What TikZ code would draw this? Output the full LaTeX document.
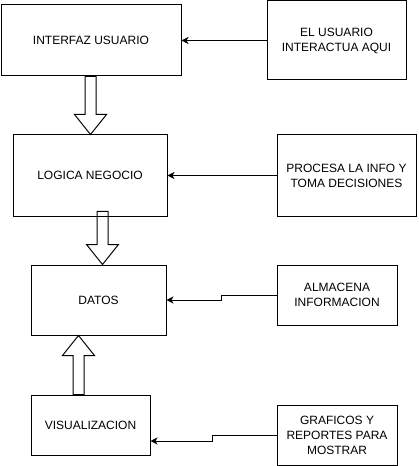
\documentclass[tikz,border=0pt]{standalone}
\usepackage{fontspec}
\setmainfont{Liberation Sans}
\usetikzlibrary{arrows.meta,calc}

\tikzset{
  caja/.style={draw, line width=0.75pt, align=center, inner sep=2pt, font=\fontsize{9}{11.25}\selectfont},
  linea/.style={line width=0.75pt, -{Stealth[length=5.25pt,width=5.25pt,inset=1.5pt]}},
  bloque/.style={line width=0.75pt, line join=miter}
}

% flecha de bloque: #1 = inicio, #2 = punta
\newcommand{\flechabloque}[2]{%
  \draw[bloque] let \p1=(#1), \p2=(#2), \p3=($(\p2)!15pt!(\p1)$) in
    (\x2-4.125pt,\y1) -- (\x2-4.125pt,\y3) -- (\x2-12pt,\y3) -- (\p2)
    -- (\x2+12pt,\y3) -- (\x2+4.125pt,\y3) -- (\x2+4.125pt,\y1) -- cycle;}

\begin{document}
\begin{tikzpicture}[x=0.75pt,y=-0.75pt]
\path[fill=white] (0,0) rectangle (418,466);
\useasboundingbox (0,0) rectangle (418,466);

\node[caja, minimum width=135pt, minimum height=53.25pt] (interfaz) at (91,40.5) {INTERFAZ USUARIO};
\node[caja, minimum width=104.25pt, minimum height=59.25pt] (usuario) at (336.5,40.5) {EL USUARIO\\INTERACTUA AQUI};
\node[caja, minimum width=115.5pt, minimum height=60.75pt] (logica) at (90,175.5) {LOGICA NEGOCIO};
\node[caja, minimum width=104.25pt, minimum height=60.75pt] (procesa) at (346.5,175.5) {PROCESA LA INFO Y\\TOMA DECISIONES};
\node[caja, minimum width=101.25pt, minimum height=52.5pt] (datos) at (98.5,300) {DATOS};
\node[caja, minimum width=90pt, minimum height=45pt] (almacena) at (337,295) {ALMACENA\\INFORMACION};
\node[caja, minimum width=89.25pt, minimum height=45pt] (visual) at (90.5,425) {VISUALIZACION};
\node[caja, minimum width=90pt, minimum height=45pt] (graficos) at (337,435) {GRAFICOS Y\\REPORTES PARA\\MOSTRAR};

\draw[linea] (usuario.west) -- (interfaz.east);
\draw[linea] (procesa.west) -- (logica.east);
\draw[linea] (almacena.west) -- ++(-55,0) |- (datos.east);
\draw[linea] (graficos.west) -- ++(-64,0) |- ([yshift=-12pt]visual.east);

\flechabloque{90.5,0 |- interfaz.south}{90.5,0 |- logica.north}
\flechabloque{$(102.5,0 |- logica.south)+(0,-5)$}{102.5,0 |- datos.north}
\flechabloque{78.5,0 |- visual.north}{78.5,0 |- datos.south}
\end{tikzpicture}
\end{document}
